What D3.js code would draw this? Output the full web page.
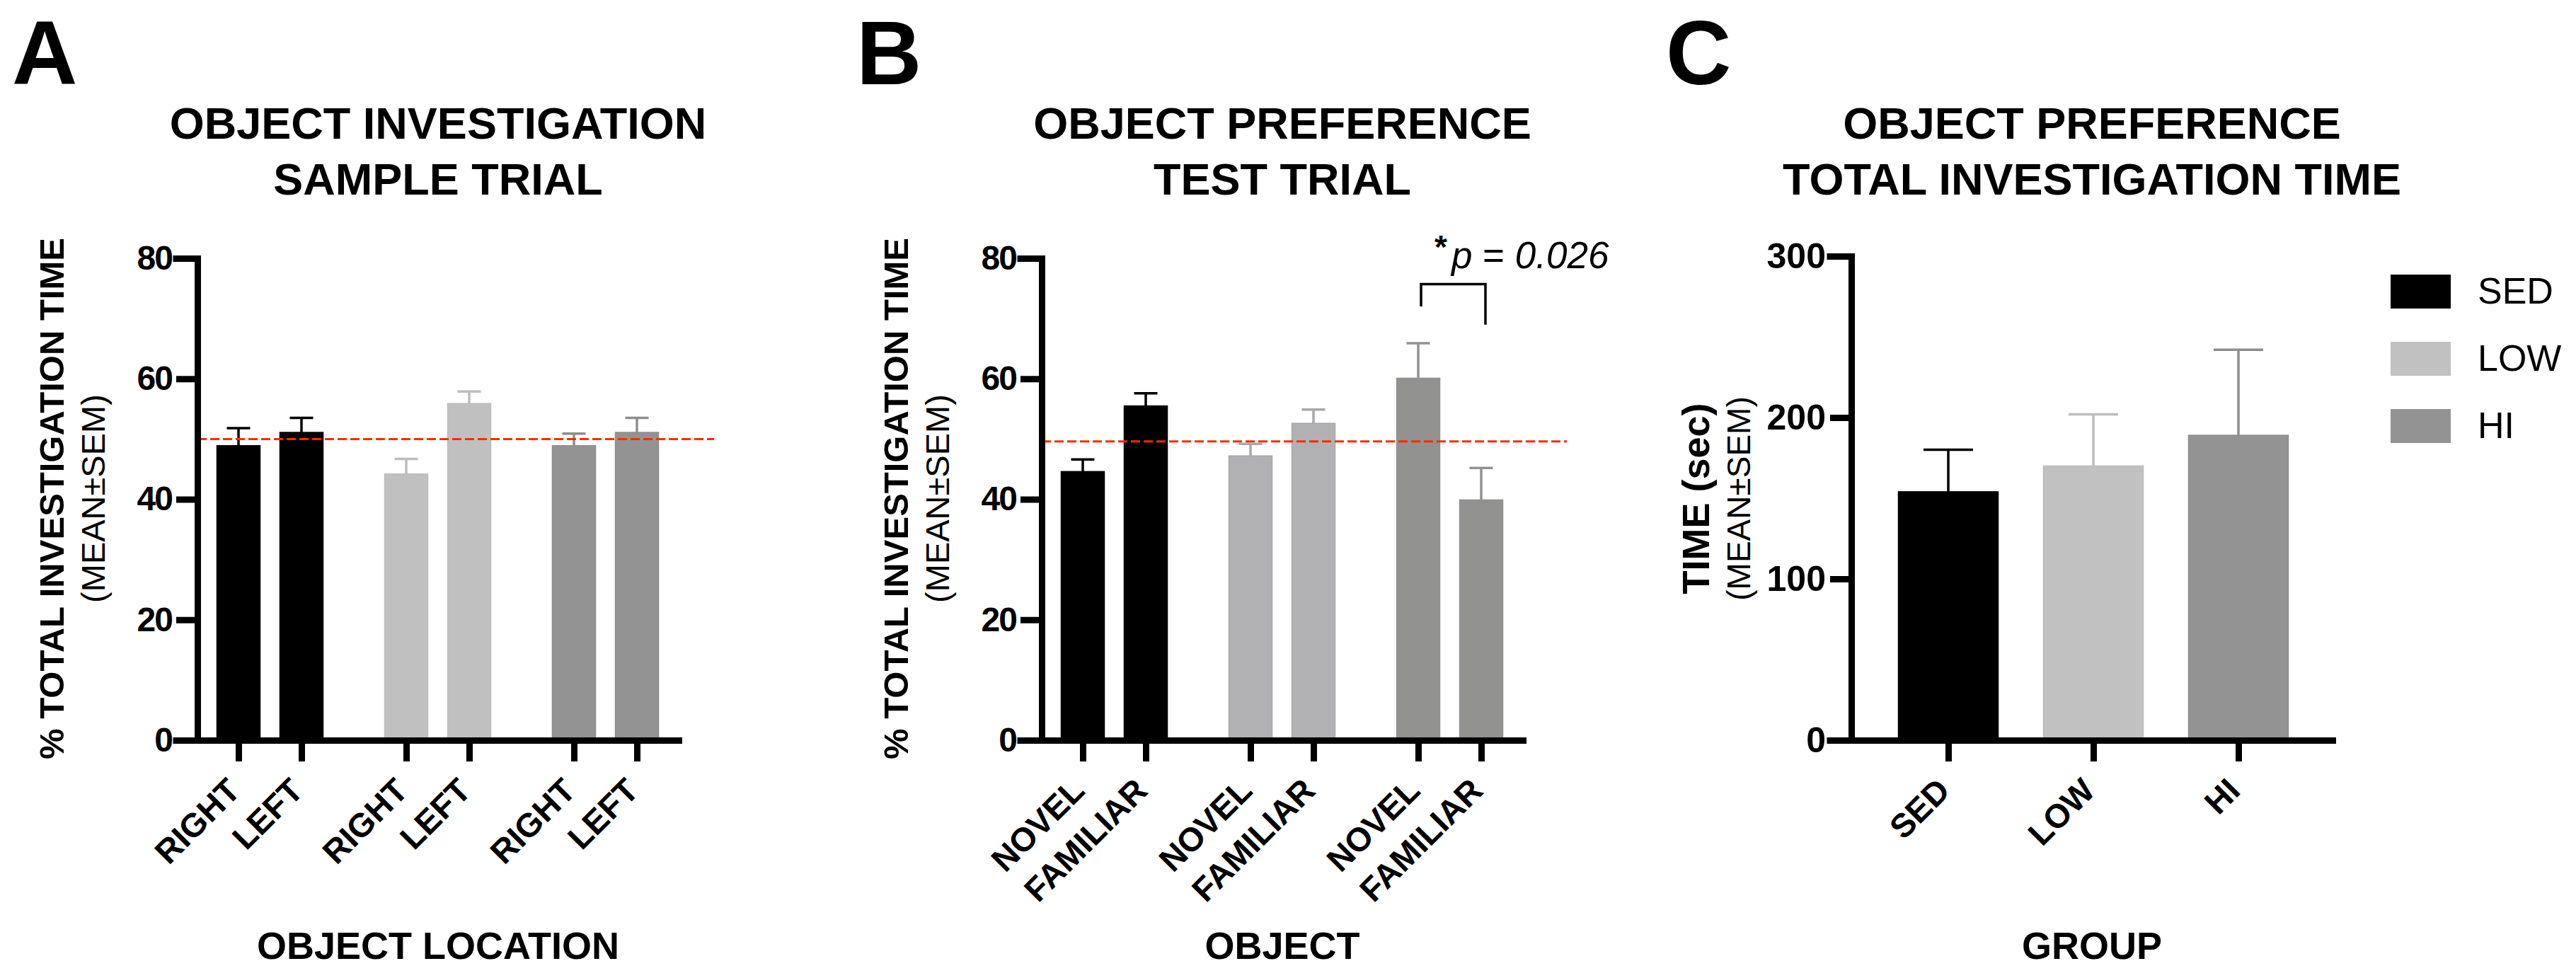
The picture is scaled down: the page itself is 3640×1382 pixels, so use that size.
<!DOCTYPE html>
<html>
<head>
<meta charset="utf-8">
<script src="https://cdn.jsdelivr.net/npm/d3@7"></script>
<style>
  html, body { margin: 0; padding: 0; background: #fff; }
  svg { display: block; font-family: "Liberation Sans", Arial, sans-serif; }
</style>
</head>
<body>
<svg id="chart"></svg>
<script>
// Categories and tick labels
var groups = ["SED", "LOW", "HI"];
var locationLabels = ["RIGHT", "LEFT"];
var objectLabels = ["NOVEL", "FAMILIAR"];
var pctTicks = [0, 20, 40, 60, 80];
var timeTicks = [0, 100, 200, 300];

// Panel A: sample trial, % investigation (right, left per group)
var sampleMean = [48.9, 51.1, 44.2, 55.9, 48.9, 51.1];
var sampleSem = [2.9, 2.4, 2.5, 2.0, 2.0, 2.4];

// Panel B: test trial, % investigation (novel, familiar per group)
var testMean = [44.6, 55.5, 47.2, 52.6, 60.1, 39.9];
var testSem = [2.0, 2.1, 2.0, 2.3, 5.8, 5.3];

// Panel C: total investigation time (sec)
var totalMean = [154, 170, 189];
var totalSem = [26, 32, 53];

// Chance lines and significance bracket (in data units)
var chanceA = 50;
var chanceB = 49.6;
var bracketTop = 75.7, bracketLeftEnd = 72, bracketRightEnd = 69;

var width = 3640, height = 1382;
var svg = d3.select("#chart").attr("width", width).attr("height", height);

var plotTop = 365, plotBottom = 1046, plotWidth = 680;

// Colours per panel (SED, LOW, HI)
var fillA = ["#000000", "#c0c0c0", "#939393"];
var fillB = ["#000000", "#b1b1b4", "#929291"];
var fillC = ["#000000", "#c1c1c1", "#939393"];
var errA = ["#000000", "#bdbdbd", "#8e8e8e"];
var errB = ["#000000", "#a8a8a8", "#929292"];

// rotated tick labels go straight into the root svg
var tickLabelLayer = svg.append("g").attr("class", "tick-labels");

function styleAxis(g) {
  g.selectAll("path.domain").attr("stroke", "#000").attr("stroke-width", 9)
    .attr("stroke-linecap", "square").attr("fill", "none");
  g.selectAll(".tick line").attr("stroke", "#000").attr("stroke-width", 9);
}

function yAxis(g, y, ticks, fontSize, spacing) {
  g.call(d3.axisLeft(y).tickValues(ticks).tickSize(30).tickSizeOuter(30)
    .tickPadding(6).tickFormat(d3.format("d")));
  styleAxis(g);
  g.selectAll(".tick text").attr("fill", "#000")
    .style("font-size", fontSize + "px").style("font-weight", "bold")
    .style("letter-spacing", spacing + "px");
}

// x axis: ticks from the axis, labels rotated 45 degrees and ending at the tick
function xAxis(g, x0, x, positions, labels) {
  g.call(d3.axisBottom(x).tickValues(positions).tickSize(30).tickSizeOuter(0)
    .tickFormat(""));
  styleAxis(g);
  g.selectAll(".tick text").remove();
  tickLabelLayer.append("g").selectAll("text").data(positions).enter().append("text")
    .attr("x", function (d) { return x0 + x(d) + 5; })
    .attr("y", plotBottom + 74)
    .attr("transform", function (d) {
      return "rotate(-45," + (x0 + x(d) + 5) + "," + (plotBottom + 74) + ")";
    })
    .attr("fill", "#000")
    .attr("text-anchor", "end")
    .attr("font-size", 47)
    .attr("font-weight", "bold")
    .text(function (d, i) { return labels[i]; });
}

function yLabel(x0, main, sub, mainSize, subSize, mainOff, subOff) {
  var cy = (plotTop + plotBottom) / 2 - 1;
  svg.append("text")
    .attr("transform", "translate(" + (x0 - mainOff) + "," + cy + ") rotate(-90)")
    .attr("dy", "0.36em").style("text-anchor", "middle")
    .style("font-size", mainSize + "px").style("font-weight", "bold")
    .text(main);
  svg.append("text")
    .attr("transform", "translate(" + (x0 - subOff) + "," + cy + ") rotate(-90)")
    .attr("dy", "0.36em").style("text-anchor", "middle")
    .style("font-size", subSize + "px")
    .text(sub);
}

function titles(x0, letter, lines, xTitle) {
  var cx = x0 + plotWidth / 2;
  svg.append("text").attr("x", x0 - 262).attr("y", 119)
    .style("font-size", "128px").style("font-weight", "bold").text(letter);
  lines.forEach(function (t, i) {
    svg.append("text").attr("x", cx).attr("y", 196 + i * 79)
      .style("text-anchor", "middle").style("font-size", "63px")
      .style("font-weight", "bold").text(t);
  });
  svg.append("text").attr("x", cx).attr("y", 1355)
    .style("text-anchor", "middle").style("font-size", "54px")
    .style("font-weight", "bold").text(xTitle);
}

function errorBars(g, x, y, means, sems, pos, colors, capW, sw) {
  var per = means.length / 3;
  var eb = g.append("g").selectAll("g").data(means).enter().append("g")
    .attr("stroke", function (d, i) { return colors[Math.floor(i / per)]; })
    .attr("stroke-width", sw);
  eb.append("line")
    .attr("x1", function (d, i) { return x(pos[i]); })
    .attr("x2", function (d, i) { return x(pos[i]); })
    .attr("y1", function (d) { return y(d); })
    .attr("y2", function (d, i) { return y(d + sems[i]); });
  eb.append("line")
    .attr("x1", function (d, i) { return x(pos[i]) - capW / 2; })
    .attr("x2", function (d, i) { return x(pos[i]) + capW / 2; })
    .attr("y1", function (d, i) { return y(d + sems[i]); })
    .attr("y2", function (d, i) { return y(d + sems[i]); });
}

// Paired panels (A and B)
function pairedPanel(x0, letter, titleLines, xTitle, means, sems, labels, fills, errs, chance, chanceEnd) {
  var g = svg.append("g").attr("transform", "translate(" + x0 + ",0)");
  var step = 89, groupStep = 2.663;
  var x = d3.scaleLinear().domain([-58 / step, (plotWidth - 58) / step]).range([0, plotWidth]);
  var y = d3.scaleLinear().domain([0, 80]).range([plotBottom, plotTop]);
  var pos = means.map(function (d, i) { return Math.floor(i / 2) * groupStep + (i % 2); });
  var tickLabels = means.map(function (d, i) { return labels[i % 2]; });
  var barW = 61;

  g.append("g").selectAll("rect").data(means).enter().append("rect")
    .attr("x", function (d, i) { return x(pos[i]) - barW / 2; })
    .attr("width", barW)
    .attr("y", function (d) { return y(d); })
    .attr("height", function (d) { return y(0) - y(d); })
    .attr("fill", function (d, i) { return fills[Math.floor(i / 2)]; })
    .attr("stroke", function (d, i) { return errs[Math.floor(i / 2)]; })
    .attr("stroke-width", 1.5);

  errorBars(g, x, y, means, sems, pos, errs, 33, 3.5);

  g.append("line")
    .attr("x1", 0).attr("x2", chanceEnd)
    .attr("y1", y(chance)).attr("y2", y(chance))
    .attr("stroke", "#ff2a00").attr("stroke-width", 3)
    .attr("stroke-dasharray", "13,5");

  g.append("g").attr("transform", "translate(0," + plotBottom + ")")
    .call(function (ax) { xAxis(ax, x0, x, pos, tickLabels); });
  g.append("g").call(function (ax) { yAxis(ax, y, pctTicks, 48, -2); });

  yLabel(x0, "% TOTAL INVESTIGATION TIME", "(MEAN\u00b1SEM)", 49, 47, 207, 148);
  titles(x0, letter, titleLines, xTitle);
  return { g: g, x: x, y: y, pos: pos };
}

var panelA = pairedPanel(279, "A", ["OBJECT INVESTIGATION", "SAMPLE TRIAL"], "OBJECT LOCATION",
  sampleMean, sampleSem, locationLabels, fillA, errA, chanceA, 730);

var panelB = pairedPanel(1472, "B", ["OBJECT PREFERENCE", "TEST TRIAL"], "OBJECT",
  testMean, testSem, objectLabels, fillB, errB, chanceB, 742);

// Significance bracket between HI novel and HI familiar
(function () {
  var g = panelB.g, x = panelB.x, y = panelB.y;
  var xl = x(panelB.pos[4]) + 4, xr = x(panelB.pos[5]) + 6;
  g.append("path")
    .attr("d", "M" + xl + "," + y(bracketLeftEnd) + "V" + y(bracketTop) +
      "H" + xr + "V" + y(bracketRightEnd))
    .attr("fill", "none").attr("stroke", "#000").attr("stroke-width", 3.5);
  var t = g.append("text").attr("x", xl + 19).attr("y", y(bracketTop) - 23)
    .style("font-size", "53px");
  t.append("tspan").style("font-weight", "bold").style("font-size", "46px")
    .attr("dy", -14).text("*");
  t.append("tspan").attr("dy", 14).attr("dx", 6).style("font-style", "italic").text("p");
  t.append("tspan").text(" = ");
  t.append("tspan").style("font-style", "italic").text("0.026");
})();

// Panel C: total investigation time
(function () {
  var x0 = 2616;
  var g = svg.append("g").attr("transform", "translate(" + x0 + ",0)");
  var step = 205;
  var x = d3.scaleLinear().domain([-137 / step, (plotWidth - 137) / step]).range([0, plotWidth]);
  var y = d3.scaleLinear().domain([0, 300]).range([plotBottom, 362]);
  var pos = groups.map(function (d, i) { return i; });
  var barW = 141;

  g.append("g").selectAll("rect").data(totalMean).enter().append("rect")
    .attr("x", function (d, i) { return x(pos[i]) - barW / 2; })
    .attr("width", barW)
    .attr("y", function (d) { return y(d); })
    .attr("height", function (d) { return y(0) - y(d); })
    .attr("fill", function (d, i) { return fillC[i]; })
    .attr("stroke", function (d, i) { return errA[i]; })
    .attr("stroke-width", 1.5);

  errorBars(g, x, y, totalMean, totalSem, pos, errA, 70, 3.5);

  g.append("g").attr("transform", "translate(0," + plotBottom + ")")
    .call(function (ax) { xAxis(ax, x0, x, pos, groups); });
  g.append("g").call(function (ax) { yAxis(ax, y, timeTicks, 50, 0); });

  yLabel(x0, "TIME (sec)", "(MEAN\u00b1SEM)", 54, 46, 220, 160);
  titles(x0, "C", ["OBJECT PREFERENCE", "TOTAL INVESTIGATION TIME"], "GROUP");

  // Legend
  var legend = svg.append("g").selectAll("g").data(groups).enter().append("g")
    .attr("transform", function (d, i) { return "translate(3378," + (412 + i * 95) + ")"; });
  legend.append("rect").attr("x", 0).attr("y", -24).attr("width", 85).attr("height", 48)
    .attr("fill", function (d, i) { return fillC[i]; });
  legend.append("text").attr("x", 123).attr("y", 17)
    .style("font-size", "52px").text(function (d) { return d; });
})();
</script>
</body>
</html>
